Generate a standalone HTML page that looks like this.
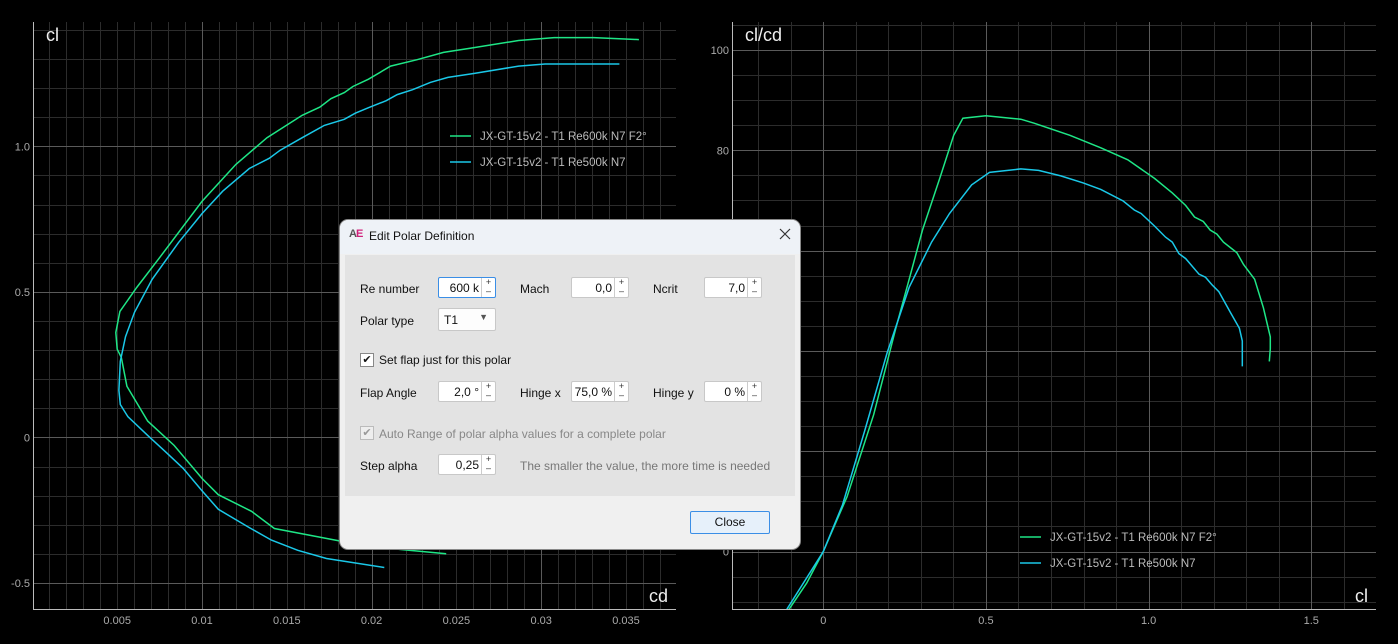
<!DOCTYPE html>
<html><head><meta charset="utf-8">
<style>
html,body{margin:0;padding:0;background:#000;width:1398px;height:644px;overflow:hidden;font-family:"Liberation Sans",sans-serif;}
svg{position:absolute;left:0;top:0}
.dlg{position:absolute;left:340px;top:220px;width:460px;height:329px;background:#f0f0f0;border-radius:8px;overflow:hidden;font-size:12px;color:#111;box-shadow:0 0 0 1px #888}
.title{position:absolute;left:0;top:0;width:460px;height:34px;background:#eef2f7}
.panel{position:absolute;left:5px;top:35px;width:450px;height:241px;background:#e3e3e3}
.lbl{position:absolute;white-space:nowrap}
.inp{position:absolute;width:58px;height:21px;background:#fff;border:1px solid #c8c8c8;border-radius:2px;box-sizing:border-box}
.inp .v{position:absolute;right:16px;top:3px;font-size:12px}
.inp .sp{position:absolute;right:0;top:0;width:13px;height:19px;border-left:1px solid #ccc;font-size:9px;line-height:9px;text-align:center;color:#333}
.cb{position:absolute;width:12px;height:12px;border:1px solid #888;background:#fff;font-size:11px;line-height:12px;text-align:center}
</style></head><body>
<svg id="chart" width="1398" height="644"></svg>

<div class="dlg">
 <div class="title">
  <span class="lbl" style="left:9px;top:8px;font-weight:bold;font-size:11px;color:#555;letter-spacing:-1px">A<span style="color:#d0207a">E</span></span>
  <span class="lbl" style="left:29px;top:9px">Edit Polar Definition</span>
  <svg style="position:absolute;left:439px;top:8px" width="12" height="12"><path d="M1 1L11 11M11 1L1 11" stroke="#333" stroke-width="1.2"/></svg>
 </div>
 <div class="panel"></div>
 <span class="lbl" style="left:20px;top:62px">Re number</span>
 <div class="inp" style="left:98px;top:57px;border-color:#3a8ee6"><span class="v">600 k</span><span class="sp">+<br>–</span></div>
 <span class="lbl" style="left:180px;top:62px">Mach</span>
 <div class="inp" style="left:231px;top:57px"><span class="v">0,0</span><span class="sp">+<br>–</span></div>
 <span class="lbl" style="left:313px;top:62px">Ncrit</span>
 <div class="inp" style="left:364px;top:57px"><span class="v">7,0</span><span class="sp">+<br>–</span></div>
 <span class="lbl" style="left:20px;top:94px">Polar type</span>
 <div class="inp" style="left:98px;top:88px;height:23px;background:#fdfdfd"><span style="position:absolute;left:5px;top:4px">T1</span><span style="position:absolute;right:7px;top:3px;font-size:9px;color:#555">▼</span></div>
 <div class="cb" style="left:20px;top:133px">✔</div>
 <span class="lbl" style="left:39px;top:133px">Set flap just for this polar</span>
 <span class="lbl" style="left:20px;top:166px">Flap Angle</span>
 <div class="inp" style="left:98px;top:161px"><span class="v">2,0 °</span><span class="sp">+<br>–</span></div>
 <span class="lbl" style="left:180px;top:166px">Hinge x</span>
 <div class="inp" style="left:231px;top:161px"><span class="v">75,0 %</span><span class="sp">+<br>–</span></div>
 <span class="lbl" style="left:313px;top:166px">Hinge y</span>
 <div class="inp" style="left:364px;top:161px"><span class="v">0 %</span><span class="sp">+<br>–</span></div>
 <div class="cb" style="left:20px;top:206px;color:#999;border-color:#bbb;background:#eee">✔</div>
 <span class="lbl" style="left:39px;top:207px;color:#888">Auto Range of polar alpha values for a complete polar</span>
 <span class="lbl" style="left:20px;top:239px">Step alpha</span>
 <div class="inp" style="left:98px;top:234px"><span class="v">0,25</span><span class="sp">+<br>–</span></div>
 <span class="lbl" style="left:180px;top:239px;color:#777">The smaller the value, the more time is needed</span>
 <div style="position:absolute;left:350px;top:291px;width:80px;height:23px;box-sizing:border-box;border:1px solid #3a8ee6;background:#e6f0fa;border-radius:2px;text-align:center;line-height:21px">Close</div>
</div>

<script>
// Left chart: cl vs cd
const cdTicks = [0.005,0.01,0.015,0.02,0.025,0.03,0.035];
const clTicksL = [-0.5,0,0.5,1.0];
const clTickLabelsL = ["-0.5","0","0.5","1.0"];
const greenCd = [0.0244,0.02164,0.01852,0.01427,0.01292,0.01096,0.0100,0.00836,0.0068,0.00557,0.00524,0.0050,0.00492,0.00516,0.00615,0.00745,0.0100,0.0120,0.01383,0.01591,0.01695,0.0176,0.01839,0.0189,0.01982,0.02112,0.02268,0.02424,0.02581,0.02867,0.03076,0.0331,0.03576];
const greenCl = [-0.40,-0.385,-0.36,-0.313,-0.254,-0.197,-0.141,-0.028,0.056,0.176,0.275,0.303,0.36,0.433,0.515,0.614,0.811,0.938,1.030,1.107,1.135,1.164,1.185,1.206,1.231,1.276,1.298,1.323,1.337,1.364,1.374,1.374,1.367];
const cyanCd = [0.02075,0.01734,0.01565,0.01409,0.01279,0.01096,0.0100,0.00888,0.00784,0.0068,0.00563,0.00518,0.0051,0.00518,0.00549,0.00602,0.00706,0.00862,0.0100,0.01122,0.01279,0.01396,0.01461,0.01591,0.01721,0.01839,0.01904,0.01982,0.02086,0.02151,0.02242,0.02346,0.0245,0.02607,0.02867,0.03023,0.03461];
const cyanCl = [-0.447,-0.416,-0.388,-0.353,-0.310,-0.247,-0.183,-0.106,-0.049,0.007,0.071,0.113,0.162,0.261,0.346,0.43,0.543,0.670,0.769,0.846,0.924,0.959,0.987,1.030,1.072,1.093,1.114,1.133,1.157,1.178,1.195,1.22,1.237,1.251,1.276,1.283,1.283];
// Right chart: cl/cd vs cl
const clTicksR = [0,0.5,1.0,1.5];
const clTickLabelsR = ["0","0.5","1.0","1.5"];
const ratioTicks = [0,80,100];
const greenClR = [-0.105,-0.051,0,0.073,0.155,0.223,0.264,0.305,0.36,0.401,0.429,0.5,0.607,0.648,0.758,0.853,0.936,1.018,1.073,1.114,1.141,1.168,1.189,1.21,1.23,1.271,1.292,1.326,1.353,1.374,1.374,1.371];
const greenRatio = [-11.5,-6.3,0,10.9,27.3,44.5,54.3,64.1,74.8,83.0,86.4,86.9,86.2,85.4,83.0,80.5,78.1,74.4,71.5,69.0,66.7,65.8,64.1,63.3,61.7,59.6,57.2,54.3,48.6,42.8,40.4,37.9];
const cyanClR = [-0.112,0,0.059,0.127,0.196,0.264,0.333,0.388,0.456,0.511,0.607,0.662,0.730,0.799,0.853,0.922,0.956,0.977,1.018,1.052,1.073,1.093,1.114,1.155,1.175,1.196,1.216,1.251,1.279,1.288,1.288];
const cyanRatio = [-11.5,0,9.3,24.0,39.6,52.7,61.7,67.4,73.1,75.6,76.3,76.0,74.9,73.5,72.2,69.9,68.1,67.4,64.9,62.7,61.7,59.4,58.4,55.3,54.7,53.1,51.8,47.7,44.5,42.0,36.9];
const legendNames = ["JX-GT-15v2 - T1 Re600k N7 F2°","JX-GT-15v2 - T1 Re500k N7"];

const GREEN="#1ee686", CYAN="#1ac8e8";
const NS="http://www.w3.org/2000/svg";
const svg=document.getElementById('chart');
function mk(tag,attrs,parent){const e=document.createElementNS(NS,tag);for(const k in attrs)e.setAttribute(k,attrs[k]);(parent||svg).appendChild(e);return e;}

function chart(cfg){
  const g=mk('g',{});
  
  
  const clipId=cfg.name+'-clip';
  const cp=mk('clipPath',{id:clipId},g);mk('rect',{x:cfg.L,y:cfg.T,width:cfg.R-cfg.L,height:cfg.B-cfg.T},cp);
  const sx=v=>cfg.x0px+(v-cfg.x0)*cfg.xs, sy=v=>cfg.y0px-(v-cfg.y0)*cfg.ys;
  function vlines(step,color,nm){
    for(let i=Math.ceil(cfg.xmin/step);i*step<=cfg.xmax+1e-9;i++){const x=Math.round(sx(i*step))+0.5;if(x<cfg.L||x>cfg.R)continue;const l=mk('line',{x1:x,x2:x,y1:cfg.T,y2:cfg.B,stroke:color,'stroke-width':1},g);}
  }
  function hlines(step,color,nm){
    for(let i=Math.ceil(cfg.ymin/step);i*step<=cfg.ymax+1e-9;i++){const y=Math.round(sy(i*step))+0.5;if(y<cfg.T||y>cfg.B)continue;const l=mk('line',{x1:cfg.L,x2:cfg.R,y1:y,y2:y,stroke:color,'stroke-width':1},g);}
  }
  vlines(cfg.xminor,'#2c2c2c','minor-gridline');hlines(cfg.yminor,'#2c2c2c','minor-gridline');
  vlines(cfg.xmajor,'#5a5a5a','major-gridline');hlines(cfg.ymajor,'#5a5a5a','major-gridline');
  const ax=mk('path',{d:`M${cfg.L+0.5} ${cfg.T}V${cfg.B+0.5}H${cfg.R}`,stroke:'#bbb',fill:'none','stroke-width':1},g);
  
  cfg.xt.forEach((v,i)=>{const t=mk('text',{x:sx(v),y:cfg.B+15,fill:'#aaa','font-size':11,'text-anchor':'middle'},g);t.textContent=cfg.xl[i];});
  cfg.yt.forEach((v,i)=>{const t=mk('text',{x:cfg.L-3,y:sy(v)+4,fill:'#aaa','font-size':11,'text-anchor':'end'},g);t.textContent=cfg.yl[i];});
  let t=mk('text',{x:cfg.L+13,y:cfg.T+19,fill:'#eee','font-size':18},g);t.textContent=cfg.ytitle;
  t=mk('text',{x:cfg.R-8,y:cfg.B-7,fill:'#eee','font-size':18,'text-anchor':'end'},g);t.textContent=cfg.xtitle;
  cfg.series.forEach((s,i)=>{
    const d=s.x.map((v,j)=>(j?'L':'M')+sx(v).toFixed(1)+' '+sy(s.y[j]).toFixed(1)).join('');
    const p=mk('path',{d,stroke:s.c,fill:'none','stroke-width':1.5,'clip-path':`url(#${clipId})`},g);
    
    const ly=cfg.legY+i*26;
    const ll=mk('line',{x1:cfg.legX,x2:cfg.legX+21,y1:ly,y2:ly,stroke:s.c,'stroke-width':1.5},g);
    
    const lt=mk('text',{x:cfg.legX+30,y:ly+4,fill:'#bbb','font-size':11.5},g);lt.textContent=legendNames[i];
    
  });
}
chart({name:'cl-cd-chart',L:33,R:676,T:22,B:609,x0:0.01,x0px:202,xs:16960,y0:0,y0px:437.4,ys:291,
  xmin:0,xmax:0.04,xminor:0.001,xmajor:0.01,ymin:-0.7,ymax:1.5,yminor:0.1,ymajor:0.5,
  xt:cdTicks,xl:cdTicks.map(String),yt:clTicksL,yl:clTickLabelsL,ytitle:'cl',xtitle:'cd',legX:450,legY:136,
  series:[{x:greenCd,y:greenCl,c:GREEN,n:'series-re600k-f2'},{x:cyanCd,y:cyanCl,c:CYAN,n:'series-re500k'}]});
chart({name:'clcd-cl-chart',L:732,R:1376,T:22,B:609,x0:0,x0px:823.3,xs:325.3,y0:0,y0px:551.5,ys:5.015,
  xmin:-0.3,xmax:1.8,xminor:0.1,xmajor:0.5,ymin:-15,ymax:110,yminor:5,ymajor:20,
  xt:clTicksR,xl:clTickLabelsR,yt:ratioTicks,yl:ratioTicks.map(String),ytitle:'cl/cd',xtitle:'cl',legX:1020,legY:537,
  series:[{x:greenClR,y:greenRatio,c:GREEN,n:'series-re600k-f2'},{x:cyanClR,y:cyanRatio,c:CYAN,n:'series-re500k'}]});
</script>
</body></html>
